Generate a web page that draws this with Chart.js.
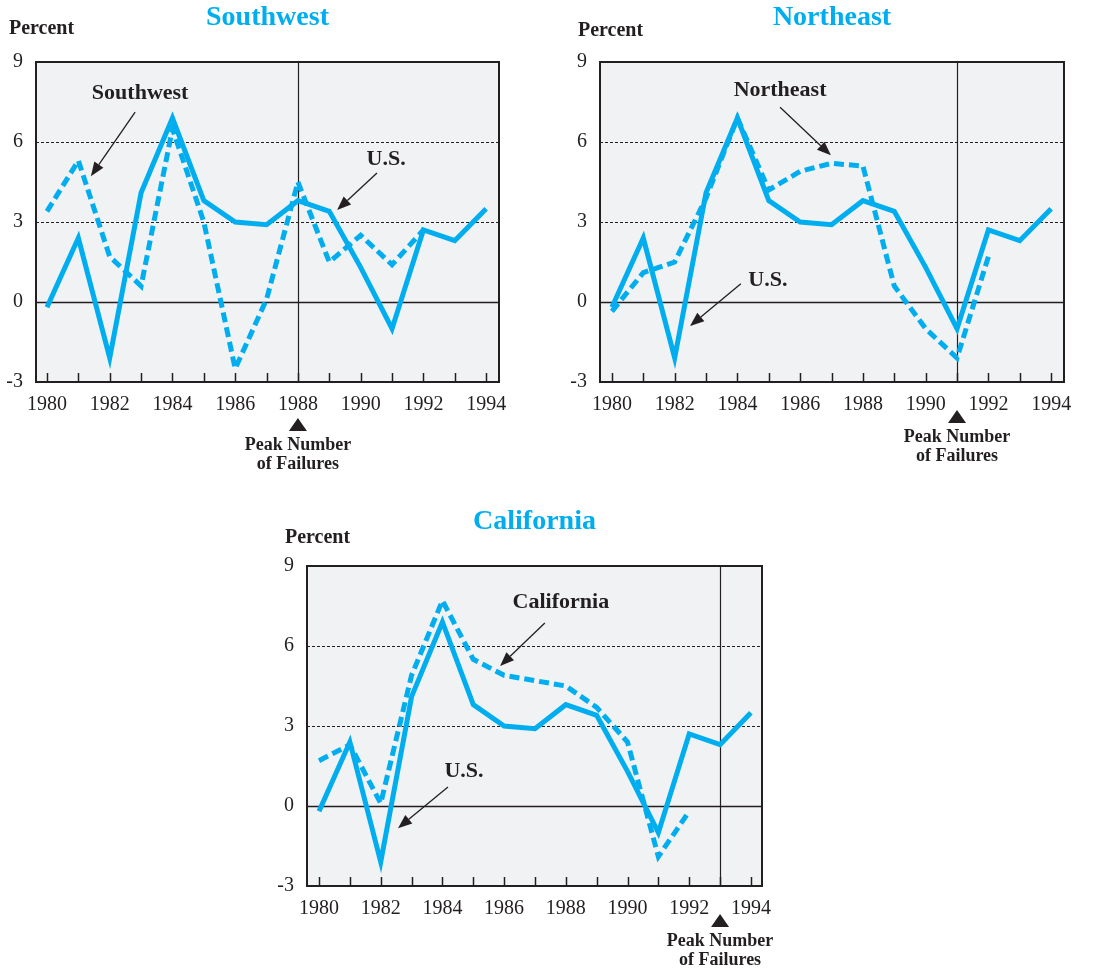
<!DOCTYPE html>
<html>
<head>
<meta charset="utf-8">
<title>Regional growth vs U.S.</title>
<script src="https://cdn.jsdelivr.net/npm/chart.js@4.4.1/dist/chart.umd.min.js"></script>
<style>
  html, body { margin: 0; padding: 0; background: #ffffff; }
  #page { position: relative; width: 1105px; height: 971px; overflow: hidden; }
  canvas { position: absolute; }
</style>
</head>
<body>
<div id="page">
  <canvas id="southwestChart" width="552" height="480" style="left:0px;top:0px;"></canvas>
  <canvas id="northeastChart" width="553" height="480" style="left:552px;top:0px;"></canvas>
  <canvas id="californiaChart" width="560" height="481" style="left:262px;top:490px;"></canvas>
</div>
<script>
// Annual growth, percent
const years = [1980, 1981, 1982, 1983, 1984, 1985, 1986, 1987, 1988, 1989, 1990, 1991, 1992, 1993, 1994];
const usGrowth = [-0.2, 2.4, -2.1, 4.1, 6.9, 3.8, 3.0, 2.9, 3.8, 3.4, 1.3, -1.0, 2.7, 2.3, 3.5];
const southwestGrowth = [3.4, 5.3, 1.7, 0.6, 6.5, 3.0, -2.5, 0.1, 4.5, 1.5, 2.5, 1.4, 2.7];
const northeastGrowth = [-0.35, 1.1, 1.5, 3.9, 6.9, 4.2, 4.9, 5.2, 5.1, 0.6, -1.0, -2.1, 1.7];
const californiaGrowth = [1.7, 2.3, 0.1, 4.9, 7.7, 5.5, 4.9, 4.7, 4.5, 3.7, 2.4, -1.9, -0.2];
const yTicks = [-3, 0, 3, 6, 9];

(function() {
  'use strict';

  const INK = '#231F20';
  const CYAN = '#00AEEF';
  const PANEL = '#F1F2F4';
  const SERIF = '"Liberation Serif", "Times New Roman", serif';

  function toPoints(values) {
    return values.map((v, i) => ({ x: years[i], y: v }));
  }

  function drawArrow(ctx, x1, y1, x2, y2) {
    const ang = Math.atan2(y2 - y1, x2 - x1);
    const len = 14, half = 5.5;
    const bx = x2 - len * Math.cos(ang);
    const by = y2 - len * Math.sin(ang);
    ctx.beginPath();
    ctx.moveTo(x1, y1);
    ctx.lineTo(bx, by);
    ctx.lineWidth = 1.3;
    ctx.strokeStyle = INK;
    ctx.stroke();
    ctx.beginPath();
    ctx.moveTo(x2, y2);
    ctx.lineTo(bx + half * Math.sin(ang), by - half * Math.cos(ang));
    ctx.lineTo(bx - half * Math.sin(ang), by + half * Math.cos(ang));
    ctx.closePath();
    ctx.fillStyle = INK;
    ctx.fill();
  }

  function drawNote(ctx, x, y, note) {
    ctx.font = 'bold 22px ' + SERIF;
    ctx.fillStyle = INK;
    ctx.textAlign = 'center';
    ctx.textBaseline = 'middle';
    ctx.fillText(note.text, x.getPixelForValue(note.at[0]), y.getPixelForValue(note.at[1]));
    drawArrow(ctx,
      x.getPixelForValue(note.from[0]), y.getPixelForValue(note.from[1]),
      x.getPixelForValue(note.to[0]), y.getPixelForValue(note.to[1]));
  }

  // Panel background, reference lines, frame and the text around each panel
  function makeDecor(cfg) {
    return {
      id: 'regionDecor',
      beforeDatasetsDraw(chart) {
        const { ctx, chartArea: a, scales: { x, y } } = chart;
        ctx.save();
        ctx.fillStyle = PANEL;
        ctx.fillRect(a.left, a.top, a.width, a.height);

        ctx.strokeStyle = INK;
        ctx.lineWidth = 1;
        ctx.setLineDash([3, 2]);
        [3, 6].forEach(v => {
          const py = Math.round(y.getPixelForValue(v)) + 0.5;
          ctx.beginPath();
          ctx.moveTo(a.left, py);
          ctx.lineTo(a.right, py);
          ctx.stroke();
        });
        ctx.setLineDash([]);

        const zy = Math.round(y.getPixelForValue(0)) + 0.5;
        ctx.lineWidth = 1.3;
        ctx.beginPath();
        ctx.moveTo(a.left, zy);
        ctx.lineTo(a.right, zy);
        ctx.stroke();

        const px = Math.round(x.getPixelForValue(cfg.peakYear)) + 0.5;
        ctx.lineWidth = 1.2;
        ctx.beginPath();
        ctx.moveTo(px, a.top);
        ctx.lineTo(px, a.bottom);
        ctx.stroke();
        ctx.restore();
      },
      afterDatasetsDraw(chart) {
        const { ctx, chartArea: a, scales: { x, y } } = chart;
        ctx.save();

        // inward tick marks on the bottom edge
        ctx.strokeStyle = INK;
        ctx.lineWidth = 1.5;
        years.forEach(yr => {
          const tx = Math.round(x.getPixelForValue(yr)) + 0.5;
          ctx.beginPath();
          ctx.moveTo(tx, a.bottom);
          ctx.lineTo(tx, a.bottom - 9);
          ctx.stroke();
        });

        ctx.lineWidth = 2;
        ctx.strokeRect(a.left, a.top, a.width, a.height);

        drawNote(ctx, x, y, cfg.regionNote);
        drawNote(ctx, x, y, cfg.usNote);

        // title and unit
        ctx.textBaseline = 'middle';
        ctx.textAlign = 'center';
        ctx.fillStyle = CYAN;
        ctx.font = 'bold 28px ' + SERIF;
        ctx.fillText(cfg.title, (a.left + a.right) / 2, a.top - 44);

        ctx.textAlign = 'left';
        ctx.fillStyle = INK;
        ctx.font = 'bold 20px ' + SERIF;
        ctx.fillText('Percent', a.left + cfg.percentDx, a.top + cfg.percentDy);

        // peak marker under the axis
        const px = x.getPixelForValue(cfg.peakYear);
        const top = a.bottom + 28 + cfg.peakDy;
        ctx.beginPath();
        ctx.moveTo(px, top);
        ctx.lineTo(px + 9, top + 13);
        ctx.lineTo(px - 9, top + 13);
        ctx.closePath();
        ctx.fill();

        ctx.textAlign = 'center';
        ctx.font = 'bold 18px ' + SERIF;
        ctx.fillText('Peak Number', px, a.bottom + 55 + cfg.peakDy);
        ctx.fillText('of Failures', px, a.bottom + 74 + cfg.peakDy);
        ctx.restore();
      }
    };
  }

  function makeChart(cfg) {
    const canvas = document.getElementById(cfg.id);
    return new Chart(canvas, {
      type: 'line',
      data: {
        datasets: [
          {
            label: cfg.title,
            data: toPoints(cfg.values),
            borderColor: CYAN,
            borderWidth: 5,
            borderDash: [10, 5],
            borderJoinStyle: 'miter',
            pointRadius: 0,
            fill: false,
            tension: 0
          },
          {
            label: 'U.S.',
            data: toPoints(usGrowth),
            borderColor: CYAN,
            borderWidth: 5,
            borderJoinStyle: 'miter',
            pointRadius: 0,
            fill: false,
            tension: 0
          }
        ]
      },
      options: {
        responsive: false,
        animation: false,
        layout: { padding: cfg.padding },
        plugins: {
          legend: { display: false },
          tooltip: { enabled: false }
        },
        scales: {
          x: {
            type: 'linear',
            min: cfg.xMin,
            max: cfg.xMax,
            grid: { display: false, drawTicks: false },
            border: { display: false },
            afterBuildTicks: s => { s.ticks = years.map(v => ({ value: v })); },
            afterFit: s => { s.height = 40; },
            ticks: {
              autoSkip: false,
              maxRotation: 0,
              padding: 11,
              color: INK,
              font: { family: SERIF, size: 20 },
              callback: v => (v % 2 === 0 ? String(v) : '')
            }
          },
          y: {
            min: -3,
            max: 9,
            grid: { display: false, drawTicks: false },
            border: { display: false },
            afterBuildTicks: s => { s.ticks = yTicks.map(v => ({ value: v })); },
            afterFit: s => { s.width = 36; },
            ticks: {
              padding: 13,
              color: INK,
              font: { family: SERIF, size: 20 },
              callback: v => String(v)
            }
          }
        }
      },
      plugins: [makeDecor(cfg)]
    });
  }

  makeChart({
    id: 'southwestChart',
    title: 'Southwest',
    values: southwestGrowth,
    peakYear: 1988,
    xMin: 1979.65,
    xMax: 1994.41,
    padding: { left: 0, top: 62, right: 53, bottom: 58 },
    percentDx: -27,
    percentDy: -33,
    peakDy: 8,
    regionNote: { text: 'Southwest', at: [1982.97, 7.84], from: [1982.81, 7.12], to: [1981.40, 4.72] },
    usNote: { text: 'U.S.', at: [1990.81, 5.36], from: [1990.52, 4.84], to: [1989.25, 3.45] }
  });

  makeChart({
    id: 'northeastChart',
    title: 'Northeast',
    values: northeastGrowth,
    peakYear: 1991,
    xMin: 1979.62,
    xMax: 1994.41,
    padding: { left: 12, top: 62, right: 41, bottom: 58 },
    percentDx: -22,
    percentDy: -31,
    peakDy: 0,
    regionNote: { text: 'Northeast', at: [1985.36, 7.95], from: [1985.36, 7.3], to: [1986.98, 5.5] },
    usNote: { text: 'U.S.', at: [1984.97, 0.83], from: [1984.11, 0.68], to: [1982.49, -0.9] }
  });

  makeChart({
    id: 'californiaChart',
    title: 'California',
    values: californiaGrowth,
    peakYear: 1993,
    xMin: 1979.61,
    xMax: 1994.36,
    padding: { left: 9, top: 76, right: 60, bottom: 45 },
    percentDx: -22,
    percentDy: -28,
    peakDy: 0,
    regionNote: { text: 'California', at: [1987.84, 7.65], from: [1987.32, 6.86], to: [1985.87, 5.25] },
    usNote: { text: 'U.S.', at: [1984.70, 1.31], from: [1984.18, 0.71], to: [1982.56, -0.83] }
  });
})();
</script>
</body>
</html>
